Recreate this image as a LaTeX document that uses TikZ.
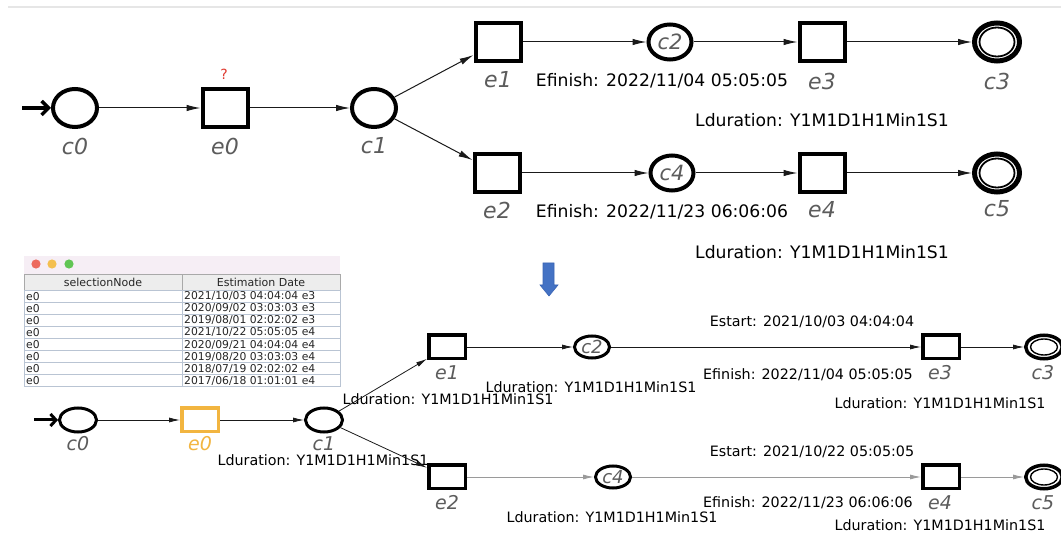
\documentclass[tikz,border=0pt]{standalone}
\usepackage{fontspec}
\setmainfont{DejaVu Sans}
\usetikzlibrary{shapes.geometric,arrows.meta}

\definecolor{lblgray}{HTML}{5C5C5C}
\definecolor{edgedark}{HTML}{1A1A1A}
\definecolor{edgelight}{HTML}{9A9A9A}
\definecolor{selorange}{HTML}{F2B540}
\definecolor{qred}{HTML}{E03A30}
\definecolor{arrowblue}{HTML}{4472C4}
\definecolor{arrowblueline}{HTML}{3A64B4}
\definecolor{titlebar}{HTML}{F6EEF5}
\definecolor{gridblue}{HTML}{B9C4D3}
\definecolor{headfill}{HTML}{EDEDED}
\definecolor{headline}{HTML}{A9A9A9}
\definecolor{dotred}{HTML}{EC6A5E}
\definecolor{dotyellow}{HTML}{F4BF4F}
\definecolor{dotgreen}{HTML}{61C554}
\definecolor{topline}{HTML}{E6E6E6}
\definecolor{celltext}{HTML}{262626}

\begin{document}
\begin{tikzpicture}[x=1pt,y=-1pt,
  % large net
  bigstate/.style={ellipse, draw, line width=4pt, minimum width=44pt, minimum height=38pt, inner sep=0pt},
  bigevent/.style={rectangle, draw, line width=4pt, minimum width=45pt, minimum height=38pt, inner sep=0pt},
  bigtime/.style={ellipse, draw, line width=4pt, minimum width=43pt, minimum height=35pt, inner sep=0pt,
    text=lblgray, font=\fontsize{21}{21}\selectfont\itshape},
  bigfinal/.style={ellipse, draw, line width=5pt, minimum width=45pt, minimum height=38pt, inner sep=0pt},
  bigring/.style={ellipse, draw, line width=1.8pt, minimum width=35pt, minimum height=29pt, inner sep=0pt},
  biglbl/.style={text=lblgray, font=\fontsize{22}{22}\selectfont\itshape, inner sep=0pt},
  bigtxt/.style={font=\fontsize{17.2}{17.2}\selectfont, inner sep=0pt},
  bigedge/.style={draw=edgedark, line width=1pt, -{Latex[length=14pt,width=6.5pt]}},
  % small net
  smstate/.style={ellipse, draw, line width=3pt, minimum width=37pt, minimum height=24pt, inner sep=0pt},
  smevent/.style={rectangle, draw, line width=3.5pt, minimum width=36.5pt, minimum height=23.5pt, inner sep=0pt},
  smtime/.style={ellipse, draw, line width=3pt, minimum width=35pt, minimum height=22pt, inner sep=0pt,
    text=lblgray, font=\fontsize{18}{18}\selectfont\itshape},
  smfinal/.style={ellipse, draw, line width=3.5pt, minimum width=36.5pt, minimum height=23.5pt, inner sep=0pt},
  smring/.style={ellipse, draw, line width=1.4pt, minimum width=27pt, minimum height=16pt, inner sep=0pt},
  smlbl/.style={text=lblgray, font=\fontsize{19}{19}\selectfont\itshape, inner sep=0pt},
  smtxt/.style={font=\fontsize{14.3}{14.3}\selectfont, inner sep=0pt},
  smedge/.style={draw=edgedark, line width=0.8pt, -{Latex[length=11pt,width=5pt]}},
  smedgelight/.style={draw=edgelight, line width=0.9pt, -{Latex[length=11pt,width=5pt]}},
  % table
  celltxt/.style={font=\fontsize{10.8}{10.8}\selectfont, text=celltext, inner sep=0pt, anchor=west},
  headtxt/.style={font=\fontsize{11}{11}\selectfont, text=celltext, inner sep=0pt},
]
\useasboundingbox (0,0) rectangle (1061,534);
\clip (0,0) rectangle (1061,534);
\fill[white] (0,0) rectangle (1061,534);

% thin rule at the top
\draw[topline, line width=2pt] (8,7) -- (1061,7);

% ---------------- large net ----------------
\node[bigstate] (c0) at (75,108) {};
\node[bigevent] (e0) at (225,108) {};
\node[bigstate] (c1) at (374,108) {};
\node[bigevent] (e1) at (498,42) {};
\node[bigtime]  (c2) at (670,42) {c2};
\node[bigevent] (e3) at (822,42) {};
\node[bigfinal] (c3) at (997,42) {};
\node[bigring]  (c3in) at (997,42) {};
\node[bigevent] (e2) at (497,173) {};
\node[bigtime]  (c4) at (672,173) {c4};
\node[bigevent] (e4) at (822,173) {};
\node[bigfinal] (c5) at (997,173) {};
\node[bigring]  (c5in) at (997,173) {};

\node[biglbl] (c0l) at (75,146) {c0};
\node[biglbl] (e0l) at (225,146) {e0};
\node[biglbl] (c1l) at (374,146) {c1};
\node[biglbl] (e1l) at (498,80) {e1};
\node[biglbl] (e3l) at (822,81) {e3};
\node[biglbl] (c3l) at (997,81) {c3};
\node[biglbl] (e2l) at (497,210) {e2};
\node[biglbl] (e4l) at (822,210) {e4};
\node[biglbl] (c5l) at (997,209) {c5};
\node[text=qred, font=\fontsize{14}{14}\selectfont, inner sep=0pt] (q) at (224,74) {?};

\node[bigtxt] (ef1) at (662,81) {Efinish: 2022/11/04 05:05:05};
\node[bigtxt] (ld1) at (822,120) {Lduration: Y1M1D1H1Min1S1};
\node[bigtxt] (ef2) at (662,212) {Efinish: 2022/11/23 06:06:06};
\node[bigtxt] (ld2) at (822,252) {Lduration: Y1M1D1H1Min1S1};

\coordinate (start) at (22,108);
\draw[line width=3.5pt, -{Straight Barb[length=7pt,width=14pt]}] (start) -- (c0);
\draw[bigedge] (c0) -- (e0);
\draw[bigedge] (e0) -- (c1);
\draw[bigedge] (c1) -- (e1);
\draw[bigedge] (c1) -- (e2);
\draw[bigedge] (e1) -- (c2);
\draw[bigedge] (c2) -- (e3);
\draw[bigedge] (e3) -- (c3);
\draw[bigedge] (e2) -- (c4);
\draw[bigedge] (c4) -- (e4);
\draw[bigedge] (e4) -- (c5);

% ---------------- down arrow ----------------
\filldraw[fill=arrowblue, draw=arrowblueline, line width=0.6pt]
  (543,263) -- (554,263) -- (554,285) -- (558,285) -- (549,296) -- (540,285) -- (543,285) -- cycle;

% ---------------- estimation window ----------------
\fill[titlebar] (24,256) rectangle (340,274);
\fill[dotred]    (36,264) circle (4.6);
\fill[dotyellow] (52,264) circle (4.6);
\fill[dotgreen]  (69,264) circle (4.6);
\filldraw[fill=headfill, draw=headline, line width=0.8pt] (24,274) rectangle (182,290);
\filldraw[fill=headfill, draw=headline, line width=0.8pt] (182,274) rectangle (340,290);
\node[headtxt] (hsel) at (103,282.5) {selectionNode};
\node[headtxt] (hest) at (261,282.5) {Estimation Date};
\foreach \d [count=\i] in {2021/10/03 04:04:04 e3, 2020/09/02 03:03:03 e3,
    2019/08/01 02:02:02 e3, 2021/10/22 05:05:05 e4, 2020/09/21 04:04:04 e4,
    2019/08/20 03:03:03 e4, 2018/07/19 02:02:02 e4, 2017/06/18 01:01:01 e4}{
  \draw[gridblue, line width=0.8pt] (24,{290+12.1*(\i-1)}) rectangle (182,{290+12.1*\i});
  \draw[gridblue, line width=0.8pt] (182,{290+12.1*(\i-1)}) rectangle (340,{290+12.1*\i});
  \node[celltxt] (sel\i) at (26,{284+12.1*\i}) {e0};
  \node[celltxt] (est\i) at (184,{284+12.1*\i}) {\d};
}

% ---------------- small net ----------------
\node[smstate] (lc0) at (78,420) {};
\node[smevent, draw=selorange] (le0) at (200,420) {};
\node[smstate] (lc1) at (324,420) {};
\node[smevent] (le1) at (447,347) {};
\node[smtime]  (lc2) at (592,347) {c2};
\node[smevent] (le3) at (941,347) {};
\node[smfinal] (lc3) at (1044,347) {};
\node[smring]  (lc3in) at (1044,347) {};
\node[smevent] (le2) at (447,477) {};
\node[smtime]  (lc4) at (613,477) {c4};
\node[smevent] (le4) at (941,477) {};
\node[smfinal] (lc5) at (1044,477) {};
\node[smring]  (lc5in) at (1044,477) {};

\node[smlbl] (lc0l) at (78,444) {c0};
\node[smlbl, text=selorange] (le0l) at (200,444) {e0};
\node[smlbl] (lc1l) at (324,444) {c1};
\node[smlbl] (le1l) at (447,373) {e1};
\node[smlbl] (le3l) at (940,373) {e3};
\node[smlbl] (lc3l) at (1043,373) {c3};
\node[smlbl] (le2l) at (447,503) {e2};
\node[smlbl] (le4l) at (940,503) {e4};
\node[smlbl] (lc5l) at (1043,503) {c5};

\node[smtxt] (ldc1) at (323,460) {Lduration: Y1M1D1H1Min1S1};
\node[smtxt] (lde1) at (448,399) {Lduration: Y1M1D1H1Min1S1};
\node[smtxt] (ldc2) at (591,387) {Lduration: Y1M1D1H1Min1S1};
\node[smtxt] (es1)  at (812,322) {Estart: 2021/10/03 04:04:04};
\node[smtxt] (lef1) at (808,375) {Efinish: 2022/11/04 05:05:05};
\node[smtxt] (lde3) at (940,403) {Lduration: Y1M1D1H1Min1S1};
\node[smtxt] (ldc4) at (612,517) {Lduration: Y1M1D1H1Min1S1};
\node[smtxt] (es2)  at (812,452) {Estart: 2021/10/22 05:05:05};
\node[smtxt] (lef2) at (808,503) {Efinish: 2022/11/23 06:06:06};
\node[smtxt] (lde4) at (940,525) {Lduration: Y1M1D1H1Min1S1};

\coordinate (lstart) at (34,420);
\draw[line width=3pt, -{Straight Barb[length=5.5pt,width=12pt]}] (lstart) -- (lc0);
\draw[smedge] (lc0) -- (le0);
\draw[smedge] (le0) -- (lc1);
\draw[smedge] (lc1) -- (le1);
\draw[smedge] (lc1) -- (le2);
\draw[smedge] (le1) -- (lc2);
\draw[smedge] (lc2) -- (le3);
\draw[smedge] (le3) -- (lc3);
\draw[smedgelight] (le2) -- (lc4);
\draw[smedgelight] (lc4) -- (le4);
\draw[smedgelight] (le4) -- (lc5);
\end{tikzpicture}
\end{document}
